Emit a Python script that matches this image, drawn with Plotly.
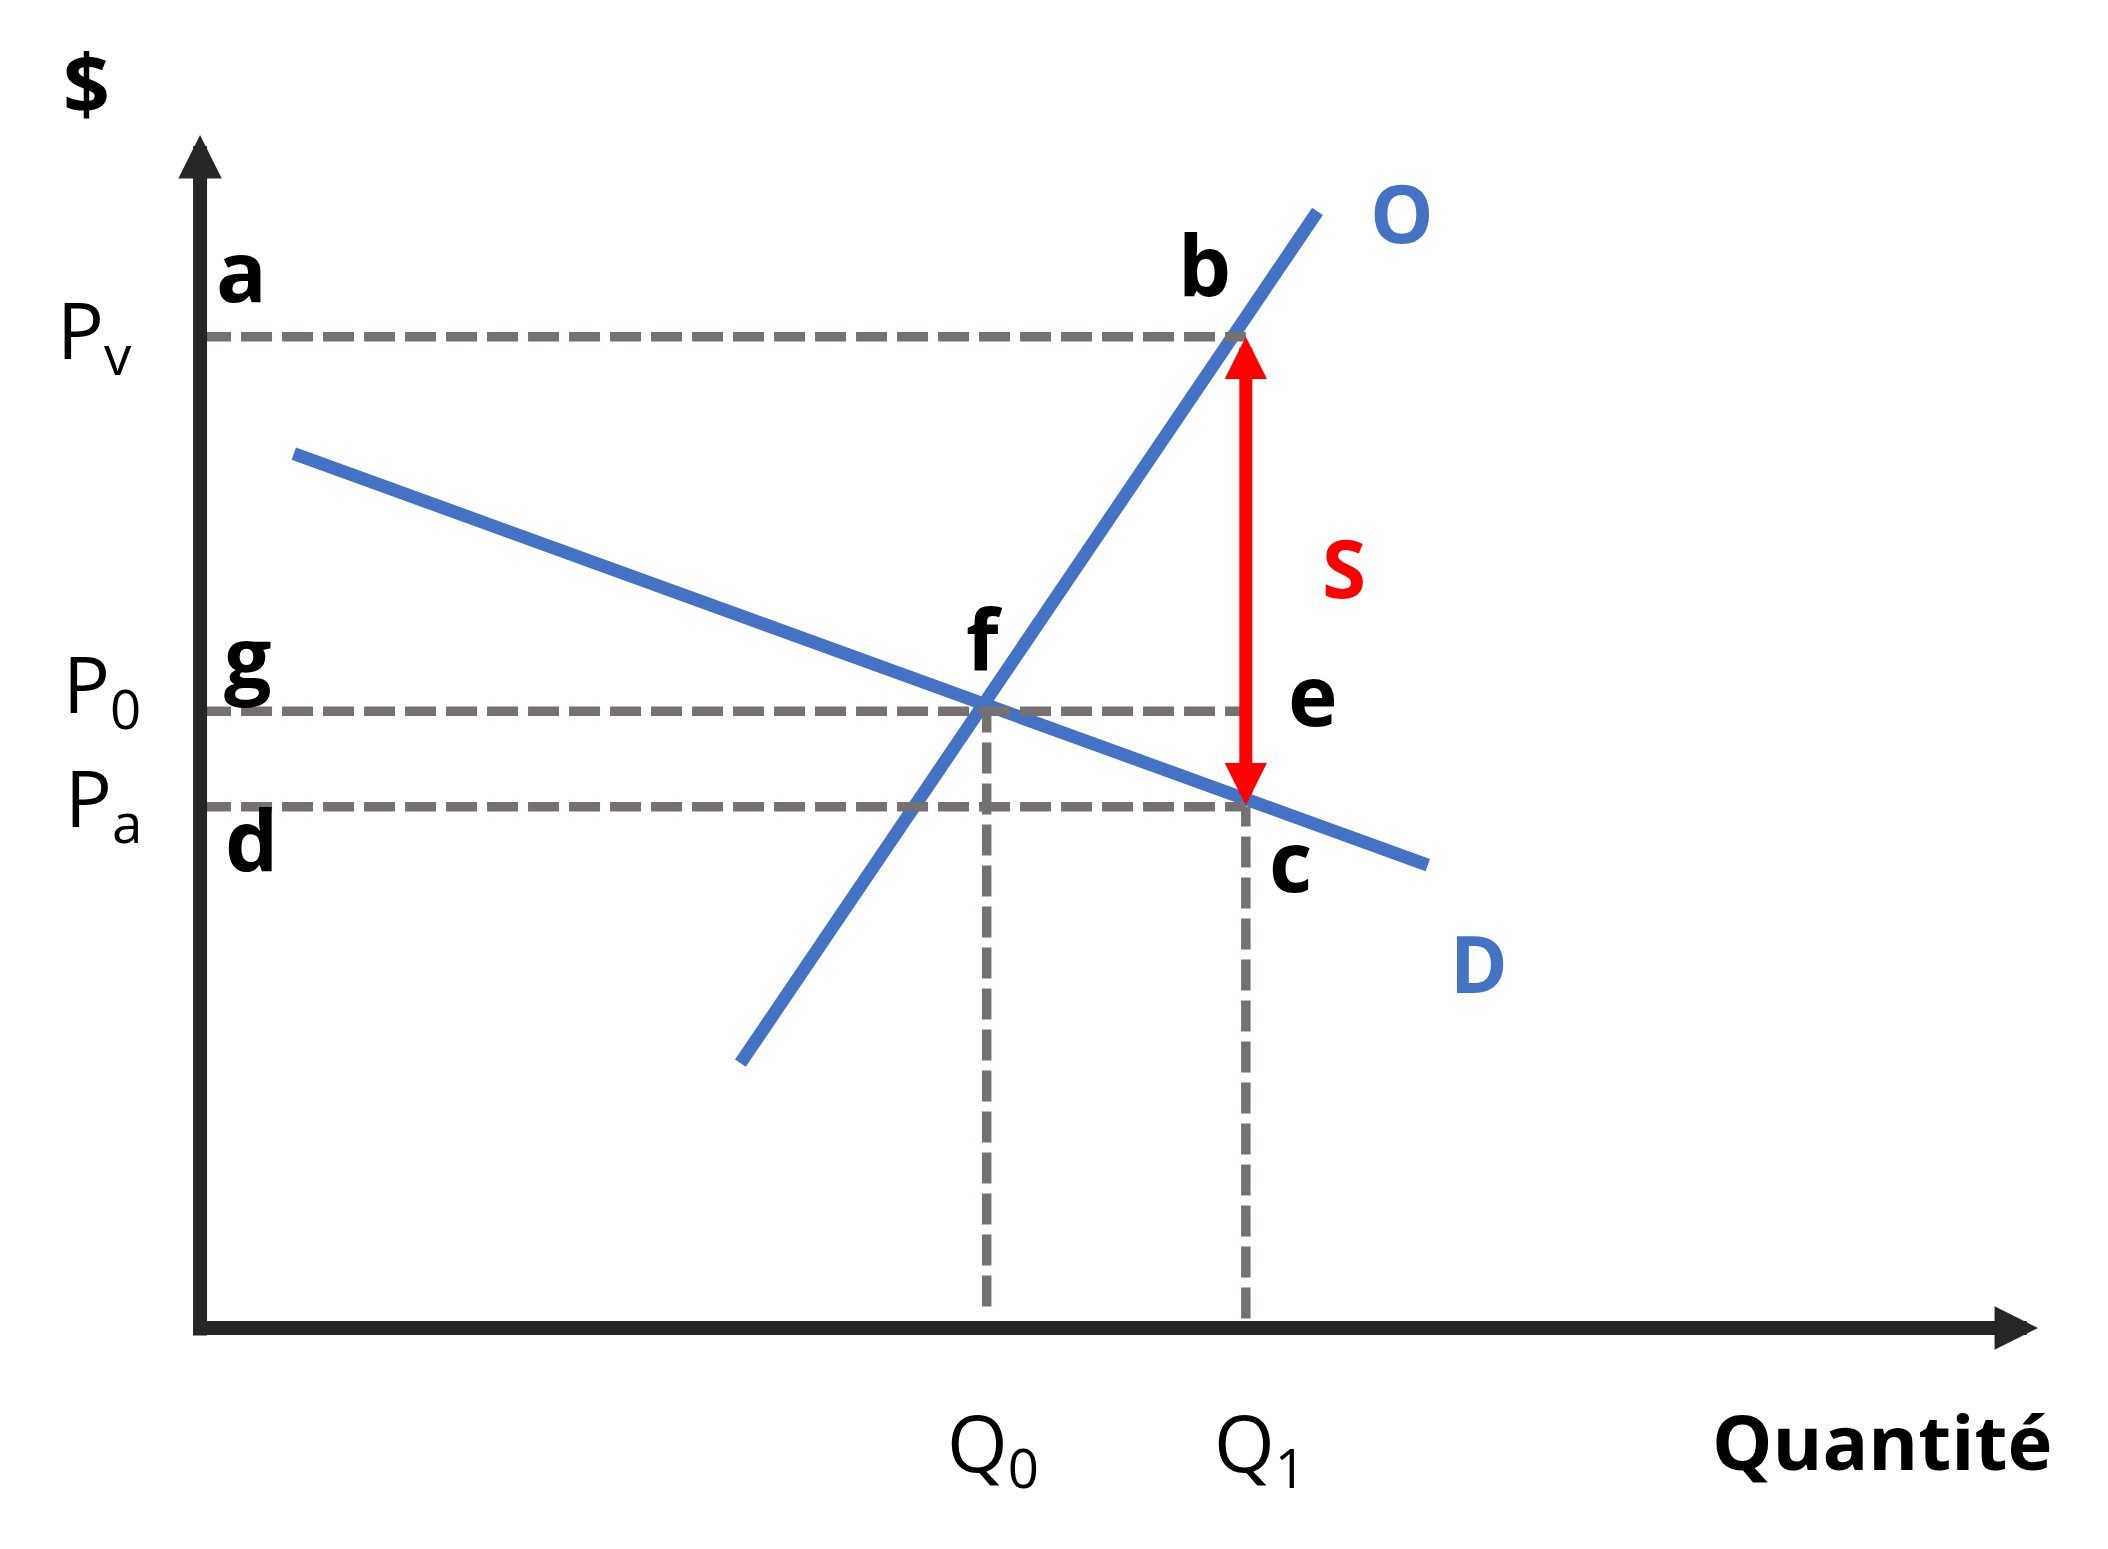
import plotly.graph_objects as go

# ---- data (economic diagram values, arbitrary units) ----
Q_MAX = 100.0          # length of quantity axis
P_MAX = 100.0          # length of price axis
Q0, Q1 = 42.8, 56.9    # quantities
P_V, P_0, P_A = 83.1, 51.7, 43.7   # prices
supply_q = [29.4, 60.8]
supply_p = [22.2, 93.6]
demand_q = [5.1, 66.8]
demand_p = [73.3, 38.8]
q0_bottom, q1_bottom = 1.8, 0.8

BLUE = "#4472C4"
RED = "#FF0000"
GREY = "#767171"
AXIS = "#262626"
FONT = "Open Sans"
DASH = "31px,10px"

fig = go.Figure()

# supply and demand
fig.add_trace(go.Scatter(x=supply_q, y=supply_p, mode="lines",
                         line=dict(color=BLUE, width=13)))
fig.add_trace(go.Scatter(x=demand_q, y=demand_p, mode="lines",
                         line=dict(color=BLUE, width=13)))

# dashed guide lines
for p in (P_V, P_0, P_A):
    fig.add_trace(go.Scatter(x=[0, Q1], y=[p, p], mode="lines",
                             line=dict(color=GREY, width=9.5, dash=DASH)))
fig.add_trace(go.Scatter(x=[Q0, Q0], y=[q0_bottom, P_0], mode="lines",
                         line=dict(color=GREY, width=9.5, dash=DASH)))
fig.add_trace(go.Scatter(x=[Q1, Q1], y=[q1_bottom, P_A], mode="lines",
                         line=dict(color=GREY, width=9.5, dash=DASH)))

ann = []
# axes with arrows
ann.append(dict(x=0, y=P_MAX, ax=0, ay=-0.75, xref="x", yref="y", axref="x", ayref="y",
                text="", showarrow=True, arrowhead=2, arrowsize=0.62, arrowwidth=14,
                arrowcolor=AXIS, standoff=0))
ann.append(dict(x=Q_MAX, y=0, ax=-0.38, ay=0, xref="x", yref="y", axref="x", ayref="y",
                text="", showarrow=True, arrowhead=2, arrowsize=0.62, arrowwidth=14,
                arrowcolor=AXIS, standoff=0))
# red double arrow
ann.append(dict(x=Q1, y=P_V, ax=Q1, ay=P_A, xref="x", yref="y", axref="x", ayref="y",
                text="", showarrow=True, arrowside="end+start",
                arrowhead=2, startarrowhead=2, arrowsize=0.65, startarrowsize=0.65,
                arrowwidth=13, arrowcolor=RED, standoff=0, startstandoff=0))


def label(text, x, y, dx, dy, size, color="black", xanchor="center"):
    ann.append(dict(x=x, y=y, xref="x", yref="y", text=text, showarrow=False,
                    xanchor=xanchor, yanchor="middle", xshift=dx, yshift=dy,
                    font=dict(family=FONT, size=size, color=color)))


B = 84
label("<b>a</b>", 0, P_V, 41, 67, B)
label("<b>b</b>", Q1, P_V, -41, 73, B)
label("<b>g</b>", 0, P_0, 47, 56, B)
label("<b>d</b>", 0, P_A, 51, -32, B)
label("<b>f</b>", Q0, P_0, -2, 74, B)
label("<b>e</b>", Q1, P_0, 67, 18, B)
label("<b>c</b>", Q1, P_A, 45, -53, B)
label("<b>O</b>", supply_q[1], supply_p[1], 84, 0, 80, BLUE)
label("<b>D</b>", demand_q[1], demand_p[1], 51, -98, 78, BLUE)
label("<b>S</b>", Q1, (P_V + P_A) / 2, 98, 5, 80, RED)
label("<b>$</b>", 0, P_MAX, -114, 53, 82)
label("<b>Quantité</b>", Q_MAX, 0, -156, -112, 76)

label("P<sub>v</sub>", 0, P_V, -145, 3, 78, xanchor="left")
label("P<sub>0</sub>", 0, P_0, -139, 24, 78, xanchor="left")
label("P<sub>a</sub>", 0, P_A, -137, 5, 78, xanchor="left")
label("Q<sub>0</sub>", Q0, 0, -42, -118, 78, xanchor="left")
label("Q<sub>1</sub>", Q1, 0, -34, -118, 78, xanchor="left")

# page body has an 8px margin: figure sized to fit the window exactly
fig.update_layout(
    width=2100, height=1541,
    margin=dict(l=0, r=0, t=0, b=0),
    paper_bgcolor="white", plot_bgcolor="white",
    showlegend=False,
    xaxis=dict(range=[-10.45, 103.81], visible=False, fixedrange=True),
    yaxis=dict(range=[-18.52, 110.65], visible=False, fixedrange=True),
    annotations=ann,
)

fig.write_html("out.html")
